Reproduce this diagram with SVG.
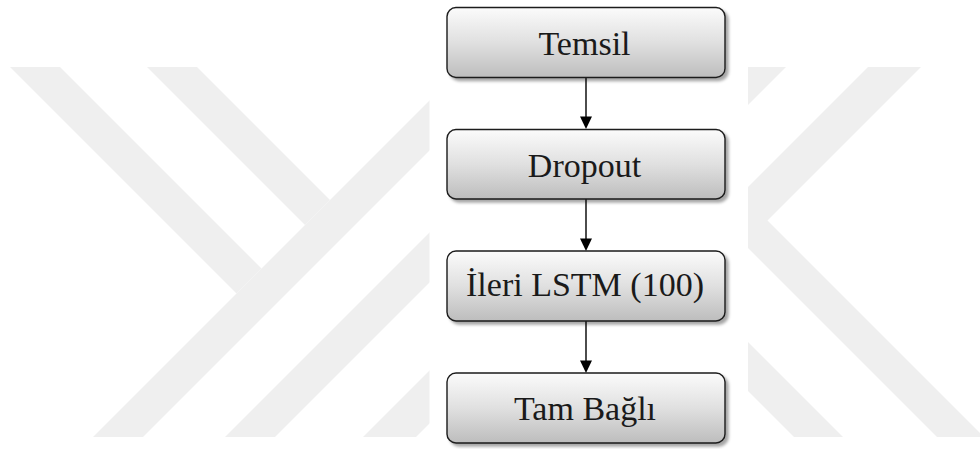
<svg xmlns="http://www.w3.org/2000/svg" width="980" height="449" viewBox="0 0 980 449">
  <defs>
    <linearGradient id="boxFill" x1="0" y1="0" x2="0" y2="1">
      <stop offset="0" stop-color="#fbfbfb"/>
      <stop offset="0.5" stop-color="#e0e0e0"/>
      <stop offset="1" stop-color="#bdbdbd"/>
    </linearGradient>
    <filter id="shadow" x="-10%" y="-20%" width="130%" height="160%">
      <feDropShadow dx="3" dy="3" stdDeviation="1.6" flood-color="#000" flood-opacity="0.35"/>
    </filter>
  </defs>
  <style>
    .wm { fill: #efefef; }
    .box { fill: url(#boxFill); stroke: #1a1a1a; stroke-width: 1.4; filter: url(#shadow); }
    .label { font-size: 34px; fill: #1a1a1a; text-anchor: middle; }
    .edge { stroke: #000; stroke-width: 1.4; fill: none; }
    .head { fill: #000; }
  </style>

  <rect width="980" height="449" fill="#ffffff"/>

  <!-- faint background emblem -->
  <g id="watermark">
    <polygon class="wm" points="10,67 60,67 261.5,268.5 236.5,293.5"/>
    <polygon class="wm" points="147,67 197,67 330,200 305,225"/>
    <polygon class="wm" points="93,437 143,437 513,67 463,67"/>
    <polygon class="wm" points="225,437 275,437 645,67 595,67"/>
    <polygon class="wm" points="363,437 416,437 786,67 733,67"/>
    <polygon class="wm" points="868,67 921,67 650,338 650,285"/>
    <polygon class="wm" points="650,150 697,150 984,437 937,437"/>
    <polygon class="wm" points="657,300 706,300 843,437 794,437"/>
    <rect x="429.5" y="0" width="318.5" height="449" fill="#ffffff"/>
  </g>

  <g id="connectors">
    <line class="edge" x1="586" y1="77.5" x2="586" y2="118"/>
    <polygon class="head" points="580,116.5 592,116.5 586,129"/>
    <line class="edge" x1="586" y1="199" x2="586" y2="240"/>
    <polygon class="head" points="580,238.5 592,238.5 586,251"/>
    <line class="edge" x1="586" y1="321" x2="586" y2="362"/>
    <polygon class="head" points="580,360.5 592,360.5 586,373"/>
  </g>

  <g font-family="'Liberation Serif', 'DejaVu Serif', serif">
    <g id="node-temsil">
      <rect class="box" x="447" y="7.5" width="278" height="70" rx="9"/>
      <text class="label" x="584.5" y="55">Temsil</text>
    </g>
    <g id="node-dropout">
      <rect class="box" x="447" y="129.5" width="278" height="69.5" rx="9"/>
      <text class="label" x="584.5" y="176.5">Dropout</text>
    </g>
    <g id="node-ileri-lstm">
      <rect class="box" x="447" y="251" width="278" height="70" rx="9"/>
      <text class="label" x="585" y="296">İleri LSTM (100)</text>
    </g>
    <g id="node-tam-bagli">
      <rect class="box" x="447" y="373" width="278" height="70" rx="9"/>
      <text class="label" x="585" y="420">Tam Bağlı</text>
    </g>
  </g>
</svg>
